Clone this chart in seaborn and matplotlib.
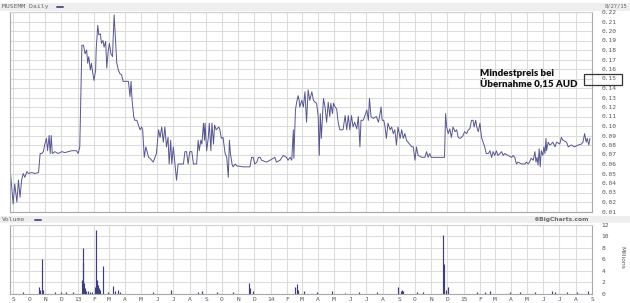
import numpy as np
import pandas as pd
import matplotlib
matplotlib.use("Agg")
import matplotlib.pyplot as plt
import matplotlib.dates as mdates
from matplotlib.patches import Rectangle
from matplotlib.lines import Line2D
import seaborn as sns

# ---------------- data ----------------
start_date = "2012-08-27"
title_text = "MUSEMM Daily"
end_label = "8/27/15"
annotation = "Mindestpreis bei\nÜbernahme 0,15 AUD"

# price, days since start date, split in segments
days_a = [0,5,8,12,15,18,21,24,27,31,34,40,46,53,56,59,62,65,68,70,73,75,77,79,84,90,97,103,109,116,
          125,128,131,135,138,141,144,146,148,151,153,156,158,161,162,165,167,170,172,175,177,180,182,185,
          187,190,193,194,196,199,201,204,207,210,213,217,223,226,228,230,233,235,239,242,245,248,250,253,
          256,258,261,264]
price_a = [0.050,0.018,0.039,0.020,0.043,0.025,0.043,0.050,0.046,0.052,0.050,0.051,0.050,0.051,0.071,
           0.071,0.073,0.081,0.087,0.074,0.090,0.071,0.090,0.071,0.073,0.071,0.073,0.072,0.073,0.074,
           0.074,0.071,0.078,0.185,0.185,0.176,0.180,0.166,0.173,0.159,0.166,0.154,0.148,0.159,0.180,
           0.206,0.196,0.197,0.187,0.190,0.183,0.189,0.161,0.180,0.187,0.176,0.173,0.190,0.217,0.187,
           0.166,0.159,0.155,0.154,0.147,0.147,0.147,0.131,0.147,0.127,0.110,0.106,0.106,0.101,0.096,
           0.099,0.096,0.067,0.078,0.074,0.067,0.066]

days_b = [270,276,280,283,286,289,292,295,298,300,303,305,308,311,314,317,327,330,333,336,339,343,346,
          352,355,357,360,362,365,367,368,371,374,376,379,381,384,386,389,394,396,399,402,406,409,412,
          414,416,419,421,425,428,440,453,456,459,462,466,469,472,475,484,491,500,503,510,516,522,525,
          529,532,535,536,539,541,544,546]
price_b = [0.062,0.071,0.096,0.088,0.099,0.083,0.099,0.078,0.088,0.060,0.085,0.060,0.078,0.060,0.043,
           0.060,0.060,0.073,0.073,0.060,0.073,0.073,0.060,0.060,0.085,0.074,0.085,0.081,0.103,0.085,
           0.103,0.074,0.087,0.103,0.074,0.103,0.081,0.101,0.096,0.099,0.096,0.087,0.088,0.071,0.067,
           0.046,0.085,0.071,0.060,0.057,0.060,0.058,0.057,0.057,0.067,0.067,0.060,0.062,0.067,0.067,
           0.064,0.062,0.064,0.067,0.062,0.064,0.069,0.067,0.064,0.067,0.064,0.096,0.066,0.117,0.124,
           0.132,0.127]

days_c = [547,551,554,557,560,563,566,570,573,576,579,582,584,586,588,592,595,598,601,604,606,609,611,
          614,617,620,623,629,633,636,639,642,645,648,651,655,658,661,663,667,670,674,677,679,682,686,
          692,696,699,701,703,706,708,711,714,718,721,724,727,730,733,737,740,743,746,749,752,759,762,
          765,768,771,778,784,787,790,793,796,803,815,819,821]
price_c = [0.120,0.127,0.120,0.136,0.104,0.138,0.127,0.136,0.127,0.125,0.124,0.110,0.069,0.113,0.087,
           0.129,0.120,0.104,0.125,0.110,0.124,0.113,0.124,0.120,0.118,0.103,0.096,0.096,0.111,0.096,
           0.111,0.096,0.111,0.099,0.104,0.097,0.110,0.078,0.106,0.106,0.110,0.117,0.106,0.129,0.110,
           0.108,0.110,0.104,0.113,0.120,0.106,0.106,0.101,0.087,0.103,0.096,0.099,0.092,0.096,0.080,
           0.099,0.087,0.096,0.087,0.092,0.085,0.083,0.078,0.078,0.064,0.078,0.069,0.067,0.067,0.073,
           0.067,0.071,0.067,0.067,0.067,0.067,0.067]

days_d = [823,825,828,831,834,837,841,844,847,850,853,856,859,863,866,869,872,875,877,880,882,885,888,
          891,894,897,900,904,907,910,913,916,919,922,926,929,932,935,941,948,951,954,957,960,967,973,
          976,979,982,985,989,992,994,996,998,1000,1002,1004,1007,1009,1011,1013,1014,1017,1020,1023,
          1026,1030,1033,1039,1042,1045,1052,1055,1061,1067,1074,1080,1083,1086,1089,1091,1094,1096]
price_d = [0.113,0.099,0.092,0.097,0.088,0.099,0.094,0.096,0.088,0.087,0.088,0.090,0.094,0.092,0.096,
           0.097,0.106,0.106,0.099,0.106,0.099,0.094,0.103,0.088,0.083,0.078,0.071,0.071,0.074,0.067,
           0.073,0.069,0.074,0.069,0.071,0.073,0.069,0.071,0.069,0.067,0.069,0.067,0.060,0.062,0.060,
           0.060,0.062,0.060,0.062,0.066,0.064,0.073,0.062,0.067,0.059,0.076,0.057,0.074,0.069,0.078,
           0.071,0.087,0.074,0.083,0.080,0.081,0.083,0.078,0.083,0.081,0.088,0.085,0.083,0.078,0.080,
           0.078,0.080,0.081,0.083,0.092,0.083,0.087,0.080,0.087]

# volume (millions)
vol_days = [24,54,56,60,62,85,95,105,118,135,137,138,139,141,143,146,150,155,160,162,164,165,167,169,
            175,185,194,198,203,207,270,304,355,363,390,420,451,453,459,538,541,543,555,580,608,633,660,
            693,733,738,740,742,769,780,818,820,823,827,882,897,907,945,964,992,1024,1030,1052,1071,1092]
vol_vals = [0.3,1.1,0.6,6.0,0.7,0.2,0.2,0.3,0.2,2.4,5.4,7.9,1.8,0.9,0.5,0.4,0.3,0.3,1.2,11.2,
            2.4,1.5,0.9,0.6,4.9,0.3,1.3,0.4,0.6,0.3,0.3,0.7,0.3,0.4,0.2,0.2,1.9,0.9,0.4,1.1,
            1.7,0.6,0.4,0.2,0.5,0.15,0.25,0.2,1.2,0.5,0.6,0.5,0.3,0.2,10.3,5.1,0.7,1.2,0.3,0.2,
            0.4,0.2,0.3,0.2,0.4,0.3,0.2,0.2,0.5]

price_ticks = [round(0.01 * k, 2) for k in range(1, 23)]
vol_ticks = [0, 2, 4, 6, 8, 10, 12]

# ---------------- build frames ----------------
t0 = pd.Timestamp(start_date)
price_df = pd.DataFrame({
    "date": t0 + pd.to_timedelta(days_a + days_b + days_c + days_d, unit="D"),
    "price": price_a + price_b + price_c + price_d,
})
vol_df = pd.DataFrame({
    "date": t0 + pd.to_timedelta(vol_days, unit="D"),
    "vol": vol_vals,
})

sns.set_style("white")
plt.rcParams["font.family"] = ["DejaVu Sans"]

W, H = 630, 303
fig = plt.figure(figsize=(W / 100, H / 100), dpi=100)
fig.patch.set_facecolor("white")

def fx(px):
    return px / W

def fy(py):
    return 1 - py / H

LINE = "#565690"
GRID = "#dcdcdc"
TXT = "#555555"
MONO = "DejaVu Sans Mono"

# header bands
fig.add_artist(Rectangle((0, fy(10.5)), 1, 7.5 / H, transform=fig.transFigure,
                         facecolor="#eeeeee", edgecolor="none", zorder=0))
fig.add_artist(Rectangle((0, fy(223)), 1, 7 / H, transform=fig.transFigure,
                         facecolor="#eeeeee", edgecolor="none", zorder=0))

ax1 = fig.add_axes([fx(10), fy(211.5), fx(582), 199.5 / H])
ax2 = fig.add_axes([fx(10), fy(293.5), fx(582), 68.5 / H])

xmin = t0 - pd.Timedelta(days=1)
xmax = t0 + pd.Timedelta(days=1100)

for ax in (ax1, ax2):
    ax.set_xlim(xmin, xmax)
    ax.xaxis.set_major_locator(mdates.MonthLocator())
    ax.grid(True, color=GRID, lw=0.8)
    ax.set_axisbelow(True)
    for s in ("left", "right", "bottom"):
        ax.spines[s].set_color("#a8a8a8")
        ax.spines[s].set_linewidth(0.8)
    ax.spines["top"].set_color("#d0d0d0")
    ax.spines["top"].set_linewidth(0.8)
    ax.yaxis.tick_right()
    ax.tick_params(axis="both", length=0, labelsize=4.5, labelcolor=TXT)

# price
sns.lineplot(data=price_df, x="date", y="price", ax=ax1, color=LINE, linewidth=0.7)
ax1.set_ylim(0.01, 0.22)
ax1.set_yticks(price_ticks)
ax1.set_yticklabels([f"{v:.2f}" for v in price_ticks], family=MONO)
ax1.tick_params(axis="y", pad=7)
ax1.set_xticklabels([])
ax1.set_xlabel("")
ax1.set_ylabel("")

# volume
ax2.vlines(vol_df["date"], 0, vol_df["vol"], color="#3e3e7c", lw=0.85)
ax2.set_ylim(0, 12)
ax2.set_yticks(vol_ticks)
ax2.set_yticklabels([str(v) for v in vol_ticks], family=MONO)
ax2.tick_params(axis="y", pad=7)

def month_fmt(x, pos=None):
    d = mdates.num2date(x)
    return d.strftime("%y") if d.month == 1 else d.strftime("%b")[0]

ax2.xaxis.set_major_formatter(plt.FuncFormatter(month_fmt))
for lab in ax2.get_xticklabels():
    lab.set_family(MONO)
ax2.tick_params(axis="x", pad=2.5, labelsize=4.5)
ax2.set_xlabel("")
ax2.set_ylabel("")

# header texts
fig.text(fx(2), fy(6.8), title_text, family=MONO, fontsize=4.6, color="#666666", va="center", ha="left")
fig.add_artist(Line2D([fx(57), fx(63)], [fy(6.8), fy(6.8)], transform=fig.transFigure, color=LINE, lw=1.4))
fig.text(fx(616), fy(6.2), end_label, family=MONO, fontsize=4.0, color="#666666", va="center", ha="center")
fig.text(fx(2), fy(219.5), "Volume", family=MONO, fontsize=4.6, color="#666666", va="center", ha="left")
fig.add_artist(Line2D([fx(35), fx(41)], [fy(219.5), fy(219.5)], transform=fig.transFigure, color=LINE, lw=1.4))
fig.text(fx(589), fy(219.5), "©BigCharts.com", fontsize=4.3, fontweight="bold", color="#6a6a6a",
         va="center", ha="right")
fig.text(fx(622), fy(257), "Millions", fontsize=4.3, color=TXT, rotation=270,
         va="center", ha="center")

# annotation
fig.text(fx(480), fy(79), annotation, family=["Lato", "DejaVu Sans"], fontweight="heavy",
         fontsize=7.0, color="#111111", va="center", ha="left", linespacing=1.25)
fig.add_artist(Rectangle((fx(584), fy(84.5)), fx(38), 11 / H, transform=fig.transFigure,
                         facecolor="none", edgecolor="#333333", lw=0.9))

fig.savefig("out.png", dpi=100)
